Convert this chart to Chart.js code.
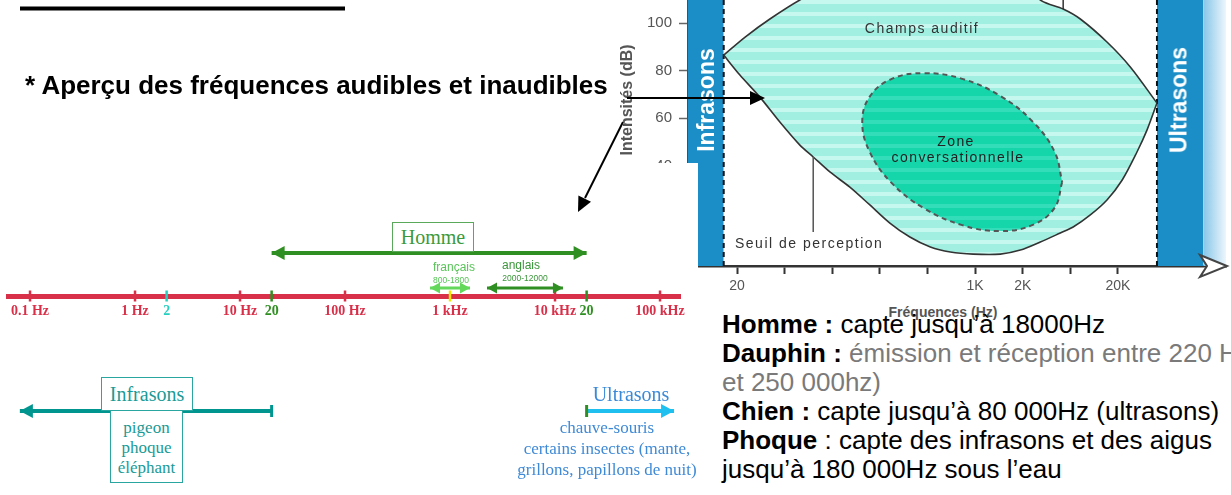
<!DOCTYPE html>
<html lang="fr">
<head>
<meta charset="utf-8">
<script src="https://cdn.jsdelivr.net/npm/chart.js@4.4.1/dist/chart.umd.min.js"></script>
<style>
html,body{margin:0;padding:0;background:#fff;}
body{width:1231px;height:495px;overflow:hidden;position:relative;font-family:"Liberation Sans",Arial,sans-serif;}
.abs{position:absolute;white-space:nowrap;}
.c{position:absolute;white-space:nowrap;transform:translate(-50%,-50%);}
#audio{position:absolute;left:600px;top:0;z-index:1;}
#scale{position:absolute;left:0;top:163px;z-index:3;background:#fff;}
.z2{z-index:2;}
.z4{z-index:4;}
.serif{font-family:"Liberation Serif","Times New Roman",serif;}
.box{position:absolute;box-sizing:border-box;background:#fff;text-align:center;z-index:4;}
#notes{position:absolute;left:722px;top:310px;font-size:26px;line-height:29px;z-index:5;color:#000;white-space:nowrap;}
#notes b{font-weight:bold;}
#notes .g{color:#7a7a7a;}
</style>
</head>
<body>
<canvas id="audio" width="631" height="300"></canvas>

<!-- audiogram annotations -->
<div class="c z2" style="left:627px;top:100px;transform:translate(-50%,-50%) rotate(-90deg);font-weight:bold;font-size:16px;color:#555;">Intensités (dB)</div>
<div class="c z2" style="left:706px;top:100px;transform:translate(-50%,-50%) rotate(-90deg);font-weight:bold;font-size:23px;color:#fff;">Infrasons</div>
<div class="c z2" style="left:1179px;top:100px;transform:translate(-50%,-50%) rotate(-90deg);font-weight:bold;font-size:23px;color:#fff;">Ultrasons</div>
<div class="c z2" style="left:922px;top:28px;font-size:14px;letter-spacing:1.5px;color:#333;">Champs auditif</div>
<div class="c z2" style="left:956px;top:141px;font-size:14px;letter-spacing:1.4px;color:#222;">Zone</div>
<div class="c z2" style="left:958px;top:157px;font-size:14px;letter-spacing:1.4px;color:#222;">conversationnelle</div>
<div class="abs z2" style="left:735px;top:235px;font-size:14px;letter-spacing:1.5px;color:#333;">Seuil de perception</div>
<div class="c z2" style="left:943px;top:312px;font-size:14px;font-weight:bold;color:#555;">Fréquences (Hz)</div>

<canvas id="scale" width="698" height="332"></canvas>

<!-- frequency scale annotations -->
<div class="box serif" style="left:392px;top:222px;width:82px;height:30px;border:1px solid #5aa85a;color:#3c9a3c;font-size:20px;line-height:28px;">Homme</div>
<div class="c z4" style="left:454px;top:267px;font-size:12px;color:#59c459;">français</div>
<div class="c z4" style="left:451px;top:280px;font-size:8.5px;color:#59c459;">800-1800</div>
<div class="c z4" style="left:521px;top:265px;font-size:12px;color:#3a963a;">anglais</div>
<div class="c z4" style="left:525px;top:278px;font-size:8.5px;color:#3a963a;">2000-12000</div>
<div class="box serif" style="left:101px;top:377px;width:92px;height:34px;border:1px solid #2aa6a0;color:#1a9a96;font-size:20px;line-height:32px;">Infrasons</div>
<div class="box serif" style="left:110px;top:411px;width:73px;height:72px;border:1px solid #2aa6a0;border-top:none;color:#1a9a96;font-size:17px;line-height:20px;padding-top:7px;">pigeon<br>phoque<br>éléphant</div>
<div class="c z4 serif" style="left:631px;top:394px;font-size:20px;color:#3a8ad8;">Ultrasons</div>
<div class="c z4 serif" style="left:607px;top:448px;font-size:17px;line-height:21px;color:#3f8ad6;text-align:center;">chauve-souris<br>certains insectes (mante,<br>grillons, papillons de nuit)</div>

<!-- title -->
<div class="abs" style="left:25px;top:70px;font-size:26px;line-height:30px;font-weight:bold;color:#000;z-index:6;">* Aperçu des fréquences audibles et inaudibles</div>

<!-- notes -->
<div id="notes">
<div><b>Homme :</b> capte jusqu’à 18000Hz</div>
<div><b>Dauphin :</b> <span class="g">émission et réception entre 220 Hz</span></div>
<div class="g">et 250 000hz)</div>
<div><b>Chien :</b> capte jusqu’à 80 000Hz (ultrasons)</div>
<div><b>Phoque</b> : capte des infrasons et des aigus</div>
<div>jusqu’à 180 000Hz sous l’eau</div>
</div>

<svg class="abs" style="left:0;top:0;z-index:10;" width="1231" height="495">
  <line x1="20" y1="8.5" x2="345" y2="8.5" stroke="#000" stroke-width="4"/>
  <line x1="627" y1="98" x2="752" y2="98" stroke="#000" stroke-width="2"/>
  <polygon points="765,98 750,91 750,105" fill="#000"/>
  <line x1="623" y1="122" x2="585" y2="198" stroke="#000" stroke-width="2"/>
  <polygon points="578,212 591,201.7 578.4,195.5" fill="#000"/>
</svg>

<script>
// ================= DATA =================
// Left: frequency scale (Hz)
const SCALE_EXTENT = [0.0617, 155000];
const SCALE_TICKS = [0.1, 1, 2, 10, 20, 100, 1000, 10000, 20000, 100000];
const SCALE_TICK_LABELS = ['0.1 Hz', '1 Hz', '2', '10 Hz', '20', '100 Hz', '1 kHz', '10 kHz', '20', '100 kHz'];
const HOMME_RANGE = [20, 20000];
const FRANCAIS_RANGE = [645, 1550];
const ANGLAIS_RANGE = [2250, 11900];
const INFRA_RANGE = [0.08, 20];
const ULTRA_RANGE = [20000, 136000];

// Right: audiogram (x = tick index of the schematic frequency axis, y = dB)
const AUD_X_RANGE = [-1.03, 10.27];
const AUD_DB_RANGE = [-2.3, 109.7];
const AUD_TICKS = [0, 1, 2, 3, 4, 5, 6, 7, 8];
const AUD_TICK_LABELS = ['20', '', '', '', '', '1K', '2K', '', '20K'];
const DB_TICKS = [0, 20, 40, 60, 80, 100];
const UPPER_X  = [-0.28, 0.17, 0.69, 1.32, 2.37, 3.85, 5.10, 5.74, 6.37, 6.85, 7.21, 7.77, 8.26, 8.82];
const UPPER_DB = [86.5, 94.1, 101.7, 109.7, 120.2, 127.4, 128.6, 122.3, 109.7, 105.9, 101.7, 92.0, 81.5, 66.3];
const LOWER_X  = [-0.28, 0.06, 0.48, 0.90, 1.32, 1.60, 1.95, 2.37, 2.79, 3.21, 3.63, 4.06, 4.48, 4.96, 5.53, 5.95, 6.37, 6.79, 7.06, 7.42, 7.77, 8.09, 8.40, 8.61, 8.82];
const LOWER_DB = [86.5, 78.1, 68.8, 58.3, 48.6, 43.6, 37.3, 30.9, 23.4, 15.8, 9.9, 5.7, 3.6, 2.7, 2.7, 4.4, 7.8, 11.6, 14.1, 19.2, 25.5, 33.9, 45.7, 54.9, 66.3];
const ZONE_X  = [6.83, 6.67, 6.21, 5.53, 4.73, 3.92, 3.24, 2.79, 2.63, 2.79, 3.24, 3.92, 4.73, 5.53, 6.21, 6.67, 6.83];
const ZONE_DB = [33.1, 22.2, 15.0, 12.4, 14.9, 22.1, 32.8, 45.6, 58.3, 69.1, 76.4, 78.9, 76.5, 69.3, 58.5, 45.8, 33.1];
const INFRA_BAND = [-1.03, -0.28];
const ULTRA_BAND = [8.82, 9.79];
const ULTRA_FADE = [9.79, 10.27];
const SEUIL_POINTER_X = 1.60, SEUIL_POINTER_DB = [43.6, 12.0];
const TOP_POINTER_X = 6.85, TOP_POINTER_DB = [105.9, 109.7];

// ================= STYLE =================
const RED = '#d9304a', GREEN = '#2f8f22', LGREEN = '#63d85a', CYAN = '#27cfc0', YELLOW = '#f2e600', TEAL = '#00968f', SKY = '#1fc0ef';
const BAND = '#1b8ec7';
const ROW = {homme: 8.6, langue: 1.6, axis: 0, sons: -23};
const ROW_RANGE = [-39.8, 26.6];

function tickColor(v) { return v === 2 ? CYAN : (v === 20 || v === 20000) ? GREEN : v === 1000 ? YELLOW : RED; }
function labelColor(v) { return v === 2 ? CYAN : (v === 20 || v === 20000) ? GREEN : RED; }
function hLine(range, row) { return range.map(x => ({x, y: row})); }
function zip(xs, ys) { return xs.map((x, i) => ({x, y: ys[i]})); }
function vLine(x, ys) { return ys.map(y => ({x, y})); }
function stripes(base, light, period, lightH) {
  const c = document.createElement('canvas'); c.width = 4; c.height = period;
  const g = c.getContext('2d');
  g.fillStyle = base; g.fillRect(0, 0, 4, period);
  g.fillStyle = light; g.fillRect(0, 0, 4, lightH);
  return g.createPattern(c, 'repeat');
}

const arrowPlugin = {
  id: 'arrowEnds',
  afterDatasetsDraw(chart) {
    const ctx = chart.ctx;
    chart.data.datasets.forEach((ds, i) => {
      if (!ds.ends) return;
      const pts = chart.getDatasetMeta(i).data;
      if (pts.length < 2) return;
      const ends = [[pts[0], pts[1], ds.ends[0]], [pts[pts.length - 1], pts[pts.length - 2], ds.ends[1]]];
      ctx.save();
      for (const [p, q, k] of ends) {
        if (!k) continue;
        const dir = Math.sign(p.x - q.x) || 1;
        const col = k.color || ds.borderColor;
        if (k.type === 'head') {
          ctx.fillStyle = col;
          ctx.beginPath();
          ctx.moveTo(p.x, p.y);
          ctx.lineTo(p.x - dir * k.len, p.y - k.half);
          ctx.lineTo(p.x - dir * k.len, p.y + k.half);
          ctx.closePath(); ctx.fill();
        } else {
          ctx.strokeStyle = col; ctx.lineWidth = k.width;
          ctx.beginPath(); ctx.moveTo(p.x, p.y - k.half); ctx.lineTo(p.x, p.y + k.half); ctx.stroke();
        }
      }
      ctx.restore();
    });
  }
};

const axisArrow = {
  id: 'axisArrow',
  afterDraw(chart) {
    const {ctx, chartArea: a} = chart;
    const x = a.right, y = a.bottom;
    ctx.save();
    ctx.fillStyle = '#fff'; ctx.strokeStyle = '#444'; ctx.lineWidth = 2;
    ctx.beginPath();
    ctx.moveTo(x - 26, y - 11); ctx.lineTo(x + 1, y); ctx.lineTo(x - 26, y + 11); ctx.lineTo(x - 19, y);
    ctx.closePath(); ctx.fill(); ctx.stroke();
    ctx.restore();
  }
};

Chart.defaults.font.family = '"Liberation Sans", Arial, sans-serif';

// ================= AUDIOGRAM =================
new Chart(document.getElementById('audio'), {
  type: 'line',
  data: {datasets: [
    {label: 'Zone conversationnelle', data: zip(ZONE_X, ZONE_DB), fill: 'shape',
     backgroundColor: stripes('#14d6aa', '#34ddb9', 12, 4), borderColor: '#555', borderWidth: 2, borderDash: [5, 4], tension: 0.4, order: 1},
    {label: 'Seuil (repère)', data: vLine(SEUIL_POINTER_X, SEUIL_POINTER_DB), borderColor: '#555', borderWidth: 1.5, order: 2},
    {label: 'Repère haut', data: vLine(TOP_POINTER_X, TOP_POINTER_DB), borderColor: '#333', borderWidth: 1.5, order: 2},
    {label: 'Seuil de douleur', data: zip(UPPER_X, UPPER_DB), fill: '+1',
     backgroundColor: stripes('#a0efe1', '#c6f8ef', 12, 4), borderColor: '#333', borderWidth: 1.6, tension: 0.3, order: 4},
    {label: 'Seuil de perception', data: zip(LOWER_X, LOWER_DB), fill: false, borderColor: '#333', borderWidth: 1.6, tension: 0.3, order: 3},
    {label: 'limite infrasons', data: vLine(INFRA_BAND[1], AUD_DB_RANGE), borderColor: '#111', borderWidth: 2, borderDash: [5, 4], order: 5},
    {label: 'limite ultrasons', data: vLine(ULTRA_BAND[0], AUD_DB_RANGE), borderColor: '#111', borderWidth: 2, borderDash: [5, 4], order: 5},
    {label: 'Infrasons', data: hLine(INFRA_BAND, AUD_DB_RANGE[1]), fill: 'start', backgroundColor: BAND, borderWidth: 0, order: 6},
    {label: 'Ultrasons', data: hLine(ULTRA_BAND, AUD_DB_RANGE[1]), fill: 'start', backgroundColor: BAND, borderWidth: 0, order: 6},
    {label: 'Ultrasons (fondu)', data: hLine(ULTRA_FADE, AUD_DB_RANGE[1]), fill: 'start', borderWidth: 0, order: 6,
     backgroundColor: (c) => {
       const ch = c.chart; if (!ch.chartArea) return BAND;
       const xs = ch.scales.x;
       const g = ch.ctx.createLinearGradient(xs.getPixelForValue(ULTRA_FADE[0]), 0, xs.getPixelForValue(ULTRA_FADE[1]) + 4, 0);
       g.addColorStop(0, '#86c6e8'); g.addColorStop(1, '#ffffff');
       return g;
     }}
  ]},
  options: {
    responsive: false, animation: false, events: [],
    layout: {padding: {left: 0, right: 5, top: 0, bottom: 0}, autoPadding: false},
    elements: {point: {radius: 0}},
    plugins: {legend: {display: false}, tooltip: {enabled: false}},
    scales: {
      x: {type: 'linear', min: AUD_X_RANGE[0], max: AUD_X_RANGE[1],
        afterBuildTicks: s => { s.ticks = AUD_TICKS.map(v => ({value: v})); },
        afterFit: s => { s.height = 34; s.paddingLeft = 0; s.paddingRight = 0; },
        border: {display: true, color: '#333', width: 2.5},
        grid: {drawOnChartArea: false, tickLength: 8, tickColor: '#333', tickWidth: 2},
        ticks: {autoSkip: false, maxRotation: 0, padding: 4, color: '#555', font: {size: 14},
          callback: (v, i) => AUD_TICK_LABELS[i]}},
      y: {type: 'linear', min: AUD_DB_RANGE[0], max: AUD_DB_RANGE[1],
        afterBuildTicks: s => { s.ticks = DB_TICKS.map(v => ({value: v})); },
        afterFit: s => { s.width = 88; s.paddingTop = 0; s.paddingBottom = 0; },
        border: {display: true, color: '#155f86', width: 2},
        grid: {drawOnChartArea: false, tickLength: 9, tickColor: '#666', tickWidth: 1.5},
        ticks: {padding: 7, color: '#555', font: {size: 15}}}
    }
  },
  plugins: [axisArrow]
});

// ================= FREQUENCY SCALE =================
const head = {type: 'head', len: 13, half: 7};
const smallHead = {type: 'head', len: 10, half: 5.5};
new Chart(document.getElementById('scale'), {
  type: 'line',
  data: {datasets: [
    {label: 'Homme', data: hLine(HOMME_RANGE, ROW.homme), borderColor: GREEN, borderWidth: 4, ends: [head, head]},
    {label: 'français', data: hLine(FRANCAIS_RANGE, ROW.langue), borderColor: LGREEN, borderWidth: 3, ends: [smallHead, smallHead]},
    {label: 'anglais', data: hLine(ANGLAIS_RANGE, ROW.langue), borderColor: GREEN, borderWidth: 3, ends: [smallHead, smallHead]},
    {label: 'Infrasons', data: hLine(INFRA_RANGE, ROW.sons), borderColor: TEAL, borderWidth: 4, ends: [head, {type: 'bar', half: 6, width: 3}]},
    {label: 'Ultrasons', data: hLine(ULTRA_RANGE, ROW.sons), borderColor: SKY, borderWidth: 4, ends: [{type: 'bar', half: 6, width: 3, color: GREEN}, head]},
    {label: 'graduations', data: SCALE_TICKS.map(v => ({x: v, y: ROW.axis})), showLine: false,
     pointStyle: 'line', pointRotation: 90, pointRadius: 5.5, pointBorderWidth: 2.5,
     pointBorderColor: SCALE_TICKS.map(tickColor)}
  ]},
  options: {
    responsive: false, animation: false, events: [],
    layout: {padding: {left: 8, right: 18, top: 0, bottom: 0}, autoPadding: false},
    elements: {point: {radius: 0}},
    plugins: {legend: {display: false}, tooltip: {enabled: false}},
    scales: {
      x: {type: 'logarithmic', min: SCALE_EXTENT[0], max: SCALE_EXTENT[1], position: {y: ROW.axis},
        afterBuildTicks: s => { s.ticks = SCALE_TICKS.map(v => ({value: v})); },
        afterFit: s => { s.paddingLeft = 0; s.paddingRight = 0; s.paddingTop = 0; s.paddingBottom = 0; },
        border: {display: true, color: RED, width: 5},
        grid: {display: false, drawTicks: false},
        ticks: {autoSkip: false, maxRotation: 0, padding: 7,
          color: c => labelColor(c.tick.value),
          font: {family: '"Liberation Serif", "Times New Roman", serif', weight: 'bold', size: 14},
          callback: (v, i) => SCALE_TICK_LABELS[i]}},
      y: {type: 'linear', min: ROW_RANGE[0], max: ROW_RANGE[1], display: false}
    }
  },
  plugins: [arrowPlugin]
});
</script>
</body>
</html>
